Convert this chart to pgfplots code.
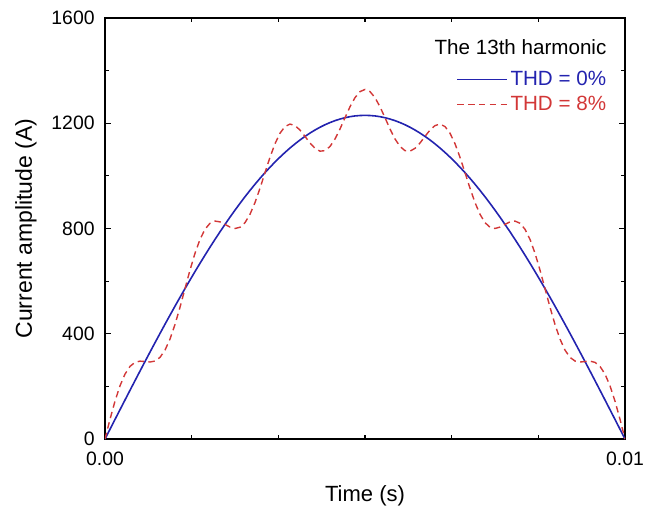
\documentclass[border=0pt]{standalone}
\usepackage{fontspec}
\setmainfont{Liberation Sans}
\usepackage{pgfplots}
\usepackage{pgfplotstable}
\pgfplotsset{compat=1.18}

\definecolor{thdblue}{RGB}{35,35,175}
\definecolor{thdred}{RGB}{210,55,55}

% k = sample index, 104 samples over 0.01 s
\pgfplotstableread{
k I0 I8
0 0 0
1 37.1 74.8
2 74.3 143.9
3 111.3 202.2
4 148.3 246.7
5 185.1 276.0
6 221.7 291.3
7 258.2 295.9
8 294.4 294.4
9 330.3 292.6
10 365.9 296.3
11 401.2 310.3
12 436.2 337.8
13 470.7 379.8
14 504.8 435.2
15 538.5 500.8
16 571.6 571.6
17 604.2 641.9
18 636.3 705.9
19 667.8 758.7
20 698.7 797.1
21 729.0 819.9
22 758.6 828.2
23 787.5 825.2
24 815.6 815.6
25 843.1 805.4
26 869.7 800.1
27 895.6 804.7
28 920.7 822.3
29 944.9 854.0
30 968.2 898.6
31 990.7 953.0
32 1012.3 1012.3
33 1032.9 1070.6
34 1052.6 1122.2
35 1071.3 1162.2
36 1089.1 1187.5
37 1105.9 1196.8
38 1121.6 1191.2
39 1136.4 1174.1
40 1150.1 1150.1
41 1162.7 1125.0
42 1174.3 1104.7
43 1184.8 1093.9
44 1194.3 1095.9
45 1202.6 1111.7
46 1209.9 1140.3
47 1216.0 1178.3
48 1221.0 1221.0
49 1225.0 1262.7
50 1227.8 1297.4
51 1229.4 1320.3
52 1230.0 1328.4
53 1229.4 1320.3
54 1227.8 1297.4
55 1225.0 1262.7
56 1221.0 1221.0
57 1216.0 1178.3
58 1209.9 1140.3
59 1202.6 1111.7
60 1194.3 1095.9
61 1184.8 1093.9
62 1174.3 1104.7
63 1162.7 1125.0
64 1150.1 1150.1
65 1136.4 1174.1
66 1121.6 1191.2
67 1105.9 1196.8
68 1089.1 1187.5
69 1071.3 1162.2
70 1052.6 1122.2
71 1032.9 1070.6
72 1012.3 1012.3
73 990.7 953.0
74 968.2 898.6
75 944.9 854.0
76 920.7 822.3
77 895.6 804.7
78 869.7 800.1
79 843.1 805.4
80 815.6 815.6
81 787.5 825.2
82 758.6 828.2
83 729.0 819.9
84 698.7 797.1
85 667.8 758.7
86 636.3 705.9
87 604.2 641.9
88 571.6 571.6
89 538.5 500.8
90 504.8 435.2
91 470.7 379.8
92 436.2 337.8
93 401.2 310.3
94 365.9 296.3
95 330.3 292.6
96 294.4 294.4
97 258.2 295.9
98 221.7 291.3
99 185.1 276.0
100 148.3 246.7
101 111.3 202.2
102 74.3 143.9
103 37.1 74.8
104 0 0
}\datatable

\begin{document}
\begin{tikzpicture}
\begin{axis}[
    name=ax,
    width=260pt, height=210.5pt,
    scale only axis,
    xmin=0, xmax=104,
    ymin=0, ymax=1600,
    xtick={0,104},
    xticklabels={0.00,0.01},
    minor xtick={17.333,34.667,52,69.333,86.667},
    ytick={0,400,800,1200,1600},
    minor ytick={200,600,1000,1400},
    tick align=inside,
    major tick length=3pt,
    minor tick length=2pt,
    every tick/.style={black, line width=0.6pt},
    axis line style={line width=0.8pt},
    tick label style={font=\fontsize{9.7}{11}\selectfont},
    /pgf/number format/assume math mode=true,
    /pgf/number format/1000 sep={},
    y tick label style={inner sep=0pt, xshift=-5pt},
    x tick label style={inner sep=0pt, yshift=-6.5pt},
    xlabel={Time (s)},
    ylabel={Current amplitude (A)},
    xlabel style={font=\fontsize{11}{13}\selectfont, at={(rel axis cs:0.5,0)}, anchor=north, inner sep=0pt, yshift=-23pt},
    ylabel style={font=\fontsize{11.5}{13}\selectfont, at={(rel axis cs:0,0.5)}, anchor=south, inner sep=0pt, yshift=34pt},
    legend style={at={(0.969,0.824)}, anchor=east, draw=none, fill=none,
        font=\fontsize{10.3}{12}\selectfont, inner sep=0pt, row sep=1.5pt,
        nodes={inner sep=1.2pt}},
    legend cell align=left,
    legend image code/.code={\draw[#1] (0pt,0pt) -- (25pt,0pt);},
]
\addplot[thdblue, line width=0.8pt] table[x=k, y=I0] {\datatable};
\addlegendentry{\textcolor{thdblue}{THD = 0\%}}
\addplot[thdred, line width=0.7pt, dash pattern=on 3.2pt off 2.2pt] table[x=k, y=I8] {\datatable};
\addlegendentry{\textcolor{thdred}{THD = 8\%}}
\node[anchor=east, font=\fontsize{10.3}{12}\selectfont, inner sep=0pt] at (rel axis cs:0.965,0.931) {The 13th harmonic};
\end{axis}
\pgfresetboundingbox
\path[use as bounding box] ([xshift=-52.5pt,yshift=-35pt]ax.south west) rectangle ([xshift=15.5pt,yshift=9pt]ax.north east);
\end{tikzpicture}
\end{document}
